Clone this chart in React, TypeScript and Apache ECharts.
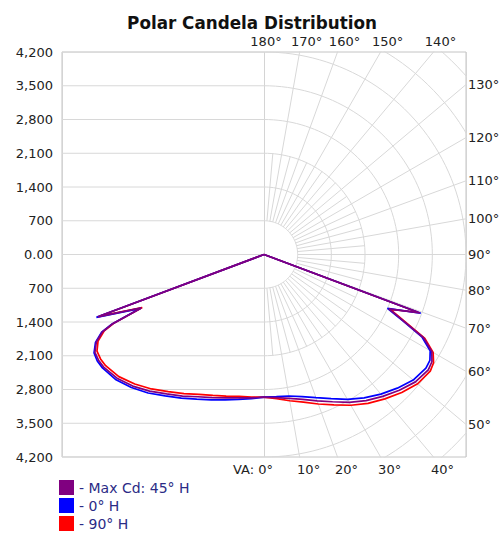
import React, { useEffect, useRef } from "react";
import * as echarts from "echarts";

// ---- DATA ----
// Vertical angles (degrees from nadir) at which candela values are read
const VERTICAL_ANGLES = [0, 5, 10, 15, 20, 25, 30, 35, 40, 45, 50, 55, 57.5, 60, 62.5, 64.5, 65.5, 66.5, 69.5, 72.5, 90];

// Max Cd plane: 45° H (right half) / 225° H (left half)
const MAX_CD_RIGHT = [2950, 2980, 3030, 3110, 3230, 3370, 3540, 3700, 3840, 3980, 4110, 4170, 4140, 4030, 3740, 3230, 3020, 2830, 3460, 0, 0];
const MAX_CD_LEFT = [2960, 2985, 3020, 3080, 3160, 3255, 3390, 3530, 3700, 3860, 3990, 4070, 4080, 4060, 3930, 3720, 3450, 2780, 3690, 0, 0];

// 0° H (right half) / 180° H (left half)
const H0_RIGHT = [2950, 2960, 2980, 3050, 3160, 3300, 3470, 3630, 3780, 3920, 4050, 4110, 4090, 3990, 3700, 3200, 2990, 2800, 3480, 0, 0];
const H0_LEFT = [2960, 3000, 3050, 3120, 3210, 3310, 3440, 3580, 3750, 3900, 4030, 4100, 4110, 4080, 3950, 3740, 3470, 2800, 3720, 0, 0];

// 90° H (right half) / 270° H (left half)
const H90_RIGHT = [2950, 3000, 3080, 3170, 3300, 3440, 3610, 3770, 3910, 4050, 4170, 4220, 4180, 4060, 3770, 3260, 3050, 2860, 3420, 0, 0];
const H90_LEFT = [2960, 2970, 2990, 3040, 3110, 3200, 3330, 3470, 3640, 3800, 3940, 4020, 4030, 4010, 3890, 3680, 3420, 2760, 3640, 0, 0];

const SERIES_NAMES = ["Max Cd: 45° H", "0° H", "90° H"];
const SERIES_COLORS = ["#800080", "#0000ff", "#ff0000"];

// Axis / tick labels
const CD_MAX = 4200;
const CD_STEP = 700;
const BOTTOM_ANGLE_LABELS = [0, 10, 20, 30, 40];
const TOP_ANGLE_LABELS = [180, 170, 160, 150, 140];
const RIGHT_ANGLE_LABELS = [50, 60, 70, 80, 90, 100, 110, 120, 130];
const GRID_RINGS = [700, 1400, 2100, 2800, 3500, 4200, 4900, 5600];
const GRID_SPOKES = [10, 20, 30, 40, 50, 60, 70, 80, 90, 100, 110, 120, 130, 140, 150, 160, 170];
const GRID_INNER_SPOKES = [5, 15, 25, 35, 45, 55, 65, 75, 85, 95, 105, 115, 125, 135, 145, 155, 165, 175];
const LEFT_ROWS = [-4200, -3500, -2800, -2100, -1400, -700, 0, 700, 1400, 2100, 2800, 3500, 4200];

const FONT = "DejaVu Sans";
const D2R = Math.PI / 180;

function buildCurve(left: number[], right: number[]) {
  const pts: number[][] = [];
  for (let i = VERTICAL_ANGLES.length - 1; i >= 0; i--) {
    const a = VERTICAL_ANGLES[i] * D2R;
    pts.push([-left[i] * Math.sin(a), -left[i] * Math.cos(a)]);
  }
  for (let i = 0; i < VERTICAL_ANGLES.length; i++) {
    const a = VERTICAL_ANGLES[i] * D2R;
    pts.push([right[i] * Math.sin(a), -right[i] * Math.cos(a)]);
  }
  return pts;
}

export default function App() {
  const ref = useRef<HTMLDivElement>(null);

  useEffect(() => {
    if (!ref.current) return;
    const chart = echarts.init(ref.current, undefined, { renderer: "svg" });

    const gridLineStyle = { color: "#d8d8d8", width: 1 };
    const gridSeries: any[] = [];
    const addLine = (d: number[][]) =>
      gridSeries.push({
        type: "line", data: d, showSymbol: false, symbol: "none", silent: true,
        lineStyle: gridLineStyle, z: 1, clip: true,
      });
    GRID_RINGS.forEach((r) => {
      const d: number[][] = [];
      for (let a = 0; a <= 180; a += 2) d.push([r * Math.sin(a * D2R), -r * Math.cos(a * D2R)]);
      addLine(d);
    });
    GRID_SPOKES.forEach((a) => {
      const s = Math.sin(a * D2R), c = Math.cos(a * D2R);
      addLine([[700 * s, -700 * c], [6200 * s, -6200 * c]]);
    });
    GRID_INNER_SPOKES.forEach((a) => {
      const s = Math.sin(a * D2R), c = Math.cos(a * D2R);
      addLine([[700 * s, -700 * c], [2100 * s, -2100 * c]]);
    });
    LEFT_ROWS.forEach((y) => addLine([[-CD_MAX, y], [0, y]]));

    const curves = [
      buildCurve(MAX_CD_LEFT, MAX_CD_RIGHT),
      buildCurve(H0_LEFT, H0_RIGHT),
      buildCurve(H90_LEFT, H90_RIGHT),
    ];
    const drawOrder = [2, 1, 0];
    const dataSeries = drawOrder.map((idx, k) => ({
      name: SERIES_NAMES[idx],
      type: "line",
      data: curves[idx],
      showSymbol: false,
      symbol: "none",
      z: 3 + k,
      clip: true,
      color: SERIES_COLORS[idx],
      itemStyle: { color: SERIES_COLORS[idx] },
      lineStyle: { color: SERIES_COLORS[idx], width: 1.7 },
    }));

    const lbl = { fontFamily: FONT, fontSize: 13, color: "#222" };
    const deg = (v: number) => Math.round(Math.atan(v / CD_MAX) / D2R);

    chart.setOption({
      animation: false,
      backgroundColor: "#ffffff",
      textStyle: { fontFamily: FONT },
      title: {
        text: "Polar Candela Distribution",
        left: "center",
        top: 9,
        padding: [5, 0, 5, 10],
        textStyle: { fontFamily: FONT, fontSize: 16.8, fontWeight: "bold", color: "#111" },
      },
      legend: {
        data: SERIES_NAMES,
        orient: "vertical",
        left: 59,
        top: 480,
        padding: 0,
        itemWidth: 15,
        itemHeight: 15,
        itemGap: 3,
        icon: "rect",
        selectedMode: false,
        formatter: (n: string) => "- " + n,
        textStyle: { fontFamily: FONT, fontSize: 14, color: "#2b2b86" },
      },
      grid: {
        left: 62, top: 52, width: 404, height: 405,
        show: true, borderColor: "#c4c4c4", borderWidth: 1, backgroundColor: "transparent",
      },
      xAxis: [
        {
          type: "value", position: "bottom", min: -CD_MAX, max: CD_MAX, interval: CD_MAX,
          axisLine: { show: false }, axisTick: { show: false },
          splitLine: { show: true, lineStyle: { color: "#d4d4d4" } },
          axisLabel: {
            ...lbl,
            margin: 6,
            customValues: BOTTOM_ANGLE_LABELS.map((a) => CD_MAX * Math.tan(a * D2R)),
            formatter: (v: number) => {
              const a = deg(v);
              return a === 0 ? "{l|VA: 0°}" : `{r|${a}°}`;
            },
            rich: {
              l: { ...lbl, padding: [0, 22, 0, 0] },
              r: { ...lbl, padding: [0, 0, 0, 18] },
            },
          },
        },
        {
          type: "value", position: "top", min: -CD_MAX, max: CD_MAX,
          axisLine: { show: false }, axisTick: { show: false }, splitLine: { show: false },
          axisLabel: {
            ...lbl,
            margin: 4,
            customValues: TOP_ANGLE_LABELS.map((a) => CD_MAX * Math.tan((180 - a) * D2R)),
            formatter: (v: number) => {
              const a = 180 - deg(v);
              return a === 180 ? `{c|${a}°}` : `{r|${a}°}`;
            },
            rich: {
              c: { ...lbl, padding: [0, 0, 0, 4] },
              r: { ...lbl, padding: [0, 0, 0, 14] },
            },
          },
        },
      ],
      yAxis: [
        {
          type: "value", position: "left", min: -CD_MAX, max: CD_MAX, interval: CD_STEP,
          axisLine: { show: false }, axisTick: { show: false },
          splitLine: { show: false },
          axisLabel: {
            ...lbl,
            margin: 9,
            formatter: (v: number) => (v === 0 ? "0.00" : Math.abs(v).toLocaleString("en-US")),
          },
        },
        {
          type: "value", position: "right", min: -CD_MAX, max: CD_MAX,
          axisLine: { show: false }, axisTick: { show: false }, splitLine: { show: false },
          axisLabel: {
            ...lbl,
            margin: 2,
            customValues: RIGHT_ANGLE_LABELS.map((a) => (-CD_MAX * Math.cos(a * D2R)) / Math.sin(a * D2R)),
            formatter: (v: number) => `${Math.round(Math.atan2(CD_MAX, -v) / D2R)}°`,
          },
        },
      ],
      series: [...gridSeries, ...dataSeries],
    });

    return () => chart.dispose();
  }, []);

  return (
    <div
      ref={ref}
      style={{ position: "absolute", left: 0, top: 0, width: 504, height: 540, background: "#fff" }}
    />
  );
}
